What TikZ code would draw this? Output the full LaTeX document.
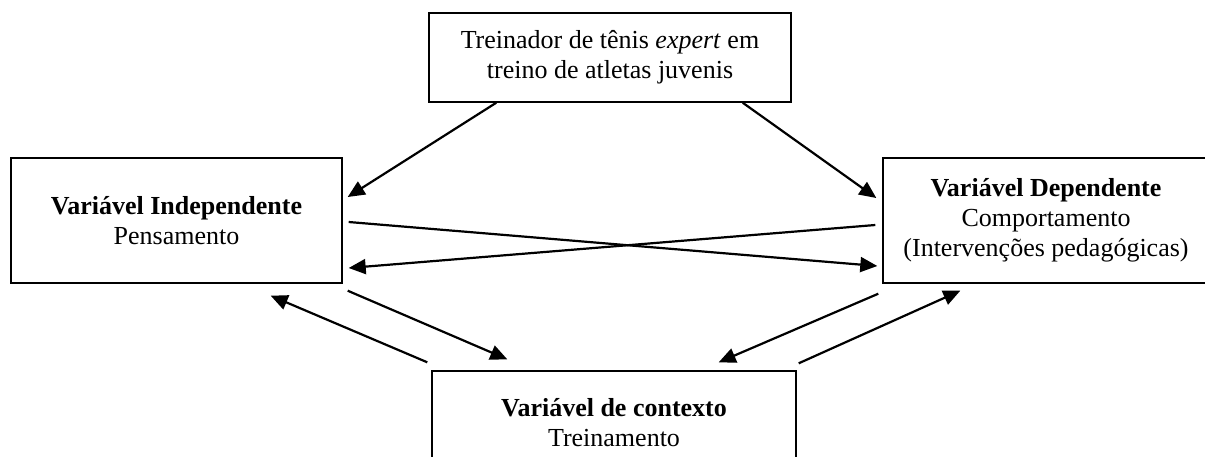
\documentclass[tikz,border=0pt]{standalone}
\usepackage{fontspec}
\setmainfont{Liberation Serif}
\usetikzlibrary{positioning,arrows.meta}

\begin{document}
\begin{tikzpicture}
		[x=0.5pt,y=-0.5pt,
		varnode/.style={rectangle, draw=black, line width=0.7pt, align=center, inner sep=0pt, font=\fontsize{13}{15}\selectfont},
		link/.style={-{Triangle[length=8.5pt,width=7.5pt]}, line width=1.1pt},
		]
		\useasboundingbox (0,0) rectangle (1205,456);
		
		%Nodes
		\node[varnode, minimum width=181pt, minimum height=44.5pt](coach) at (610,57.5) {Treinador de tênis \textit{expert} em\\treino de atletas juvenis};
		\node[varnode, minimum width=165.5pt, minimum height=62.5pt](indep) at (176.5,220.5) {\textbf{Variável Independente}\\Pensamento};
		\node[varnode, minimum width=163pt, minimum height=62.5pt](dep) at (1046,220.5) {\textbf{Variável Dependente}\\Comportamento\\(Intervenções pedagógicas)};
		\node[varnode, minimum width=182pt, minimum height=52pt](context) at (614,423) {\textbf{Variável de contexto}\\Treinamento};
		%Lines
		\draw[link]([xshift=34pt]coach.south west) -- ([xshift=2.5pt,yshift=11.75pt]indep.east);
		\draw[link]([xshift=-24.5pt]coach.south east) -- ([xshift=-3pt,yshift=11.25pt]dep.west);
		\draw[link]([xshift=3pt,yshift=-0.75pt]indep.east) -- ([xshift=-2.5pt,yshift=-22.75pt]dep.west);
		\draw[link]([xshift=-3.5pt,yshift=-2.25pt]dep.west) -- ([xshift=3pt,yshift=-23.75pt]indep.east);
		\draw[link]([xshift=-2pt,yshift=4pt]context.north west) -- ([xshift=-36pt,yshift=-6pt]indep.south east);
		\draw[link]([xshift=2.5pt,yshift=-3.5pt]indep.south east) -- ([xshift=38pt,yshift=5.5pt]context.north west);
		\draw[link]([xshift=-2pt,yshift=-5pt]dep.south west) -- ([xshift=-39pt,yshift=4pt]context.north east);
		\draw[link]([xshift=1pt,yshift=3.5pt]context.north east) -- ([xshift=39pt,yshift=-3.5pt]dep.south west);
	\end{tikzpicture}
\end{document}
